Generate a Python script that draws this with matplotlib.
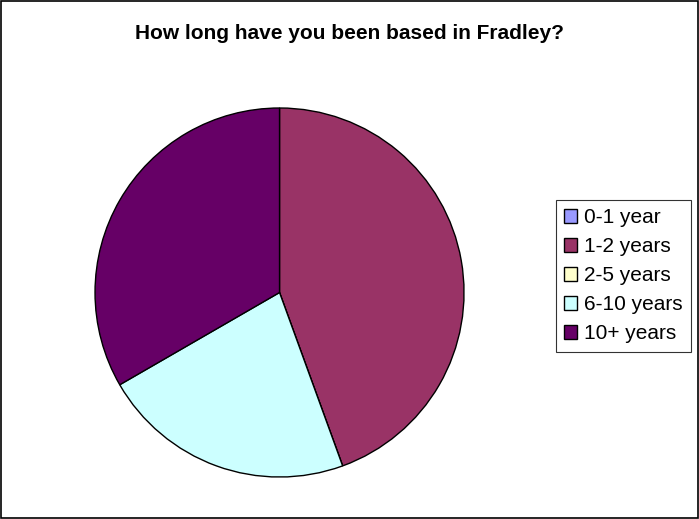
import matplotlib
matplotlib.use("Agg")
import matplotlib.pyplot as plt
from matplotlib.patches import Rectangle

plt.rcParams["font.family"] = ["Liberation Sans", "DejaVu Sans"]

# --- Datos ---
TITLE = "How long have you been based in Fradley?"
CATEGORIES = ["0-1 year", "1-2 years", "2-5 years", "6-10 years", "10+ years"]
COUNTS = [0, 4, 0, 2, 3]
COLORS = ["#9999FF", "#993366", "#FFFFCC", "#CCFFFF", "#660066"]


def main():
    fig = plt.figure(figsize=(6.99, 5.19), dpi=100)
    fig.patch.set_facecolor("white")

    # marco negro alrededor de la figura
    fig.add_artist(Rectangle((0.001, 0.001), 0.997, 0.997, transform=fig.transFigure,
                             fill=False, edgecolor="black", linewidth=1.2))

    ax = fig.add_axes([0.1359, 0.0809, 0.528, 0.711])
    wedges, _ = ax.pie(
        COUNTS,
        colors=COLORS,
        startangle=90,
        counterclock=False,
        radius=1.0,
        wedgeprops={"edgecolor": "black", "linewidth": 1.0},
    )
    ax.set_xlim(-1.0, 1.0)
    ax.set_ylim(-1.0, 1.0)
    ax.set_aspect("equal")

    fig.text(0.5, 0.936, TITLE, ha="center", va="center",
             fontsize=15, fontweight="bold")

    leg = fig.legend(
        wedges, CATEGORIES,
        loc="upper left",
        bbox_to_anchor=(556 / 699, 1 - 200 / 519),
        frameon=True,
        fancybox=False,
        fontsize=15,
        handlelength=0.6,
        handleheight=0.6,
        handletextpad=0.35,
        labelspacing=0.48,
        borderpad=0.4,
        borderaxespad=0.0,
    )
    leg.get_frame().set_edgecolor("black")
    leg.get_frame().set_linewidth(0.8)

    fig.savefig("out.png", dpi=100)


if __name__ == "__main__":
    main()
